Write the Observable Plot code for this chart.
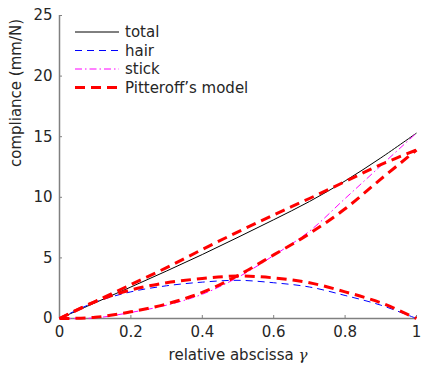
<!DOCTYPE html>
<html><head><meta charset="utf-8">
<script src="https://cdn.jsdelivr.net/npm/d3@7"></script>
<script src="https://cdn.jsdelivr.net/npm/@observablehq/plot@0.6"></script>
<style>body{margin:0;background:#fff}#chart{width:421px;height:366px}</style>
</head><body><div id="chart"></div>
<script>
// relative abscissa
const gamma = [0, 0.1, 0.2, 0.3, 0.4, 0.5, 0.6, 0.7, 0.8, 0.9, 1.0];
// compliance (mm/N)
const totalValues     = [0, 1.3, 2.6, 3.92, 5.28, 6.7, 8.15, 9.65, 11.35, 13.25, 15.3];
const hairValues      = [0, 1.35, 2.2, 2.7, 3.0, 3.15, 2.95, 2.6, 1.9, 1.1, 0];
const stickValues     = [0, 0.05, 0.5, 1.1, 2.0, 3.4, 5.2, 7.2, 9.9, 12.6, 15.3];
const pitteroffTotal  = [0, 1.4, 2.8, 4.2, 5.7, 7.15, 8.55, 9.9, 11.3, 12.7, 13.9];
const pitteroffHair   = [0, 1.4, 2.35, 2.95, 3.3, 3.5, 3.35, 2.95, 2.2, 1.3, 0];
const pitteroffStick  = [0, 0.1, 0.55, 1.2, 2.15, 3.55, 5.25, 7.0, 9.05, 11.5, 13.9];

const legendNames = ["total", "hair", "stick", "Pitteroff’s model"];
const xTicks = [0, 0.2, 0.4, 0.6, 0.8, 1];
const xTickLabels = ["0", "0.2", "0.4", "0.6", "0.8", "1"];
const yTicks = [0, 5, 10, 15, 20, 25];
const yTickLabels = ["0", "5", "10", "15", "20", "25"];
const xLabel = "relative abscissa γ";
const yLabel = "compliance (mm/N)";

const toRows = vals => gamma.map((g, i) => ({g, v: vals[i]}));

const styles = {
  total: {stroke: "#000000", strokeWidth: 1, strokeDasharray: null},
  hair: {stroke: "#0000ff", strokeWidth: 1, strokeDasharray: "7,5"},
  stick: {stroke: "#ff00ff", strokeWidth: 1, strokeDasharray: "7,3,1.5,3"},
  pitteroff: {stroke: "#ff0000", strokeWidth: 3, strokeDasharray: "10,6"}
};
const W = 421, H = 366, mL = 59, mR = 5, mT = 15, mB = 48;
const FS = 15;
const gray = "#808080";
const lineOpts = (s) => ({x: "g", y: "v", curve: "catmull-rom", stroke: s.stroke, strokeWidth: s.strokeWidth, strokeDasharray: s.strokeDasharray, strokeLinecap: "butt"});

const plot = Plot.plot({
  width: W, height: H,
  marginLeft: mL, marginRight: mR, marginTop: mT, marginBottom: mB,
  style: {fontFamily: "DejaVu Sans", fontSize: FS + "px", background: "#fff", color: "#262626"},
  x: {domain: [0, 1]},
  y: {domain: [0, 25]},
  marks: [
    Plot.ruleX([0], {stroke: gray, strokeWidth: 1.5}),
    Plot.ruleY([0], {stroke: gray, strokeWidth: 1.5}),
    Plot.tickY(yTicks, {y: d => d, stroke: gray, strokeWidth: 1, insetRight: (W - mL - mR) - 3}),
    Plot.tickX(xTicks, {x: d => d, stroke: gray, strokeWidth: 1, insetTop: (H - mT - mB) - 3}),
    Plot.line(toRows(totalValues), lineOpts(styles.total)),
    Plot.line(toRows(hairValues), lineOpts(styles.hair)),
    Plot.line(toRows(stickValues), lineOpts(styles.stick)),
    Plot.line(toRows(pitteroffTotal), lineOpts(styles.pitteroff)),
    Plot.line(toRows(pitteroffHair), lineOpts(styles.pitteroff)),
    Plot.line(toRows(pitteroffStick), lineOpts(styles.pitteroff)),
    Plot.axisY({ticks: yTicks, tickSize: 0, tickPadding: 7, tickFormat: (d, i) => yTickLabels[i], label: null, fontSize: FS, fill: "#262626"}),
    Plot.axisX({ticks: xTicks, tickSize: 0, tickPadding: 8, tickFormat: (d, i) => xTickLabels[i], label: null, fontSize: FS, fill: "#262626"}),
    Plot.text([xLabel], {frameAnchor: "bottom", dy: 37, lineAnchor: "middle", fontSize: FS, fill: "#262626"}),
    Plot.text([yLabel], {frameAnchor: "left", dx: -43, rotate: -90, lineAnchor: "middle", fontSize: FS, fill: "#262626"})
  ]
});

// italic gamma in x label
plot.querySelectorAll("text").forEach(t => {
  if (t.textContent === xLabel) {
    t.textContent = "";
    const a = document.createElementNS("http://www.w3.org/2000/svg", "tspan");
    a.textContent = xLabel.slice(0, -1);
    const b = document.createElementNS("http://www.w3.org/2000/svg", "tspan");
    b.textContent = xLabel.slice(-1);
    b.setAttribute("font-style", "italic");
    b.setAttribute("font-family", "DejaVu Serif");
    t.appendChild(a); t.appendChild(b);
  }
});

// legend
const legendStyles = [styles.total, styles.hair, styles.stick, styles.pitteroff];
const lg = d3.select(plot).append("g").attr("font-family", "DejaVu Sans").attr("font-size", FS).attr("text-anchor", "start");
legendNames.forEach((name, i) => {
  const y = 32 + i * 18.5;
  const s = legendStyles[i];
  lg.append("line").attr("x1", 75).attr("x2", 119).attr("y1", y).attr("y2", y)
    .attr("stroke", s.stroke).attr("stroke-width", s.strokeWidth)
    .attr("stroke-dasharray", s.strokeDasharray);
  lg.append("text").attr("x", 125).attr("y", y).attr("dy", "0.35em").attr("fill", "#262626").text(name);
});

document.getElementById("chart").appendChild(plot);
</script></body></html>
